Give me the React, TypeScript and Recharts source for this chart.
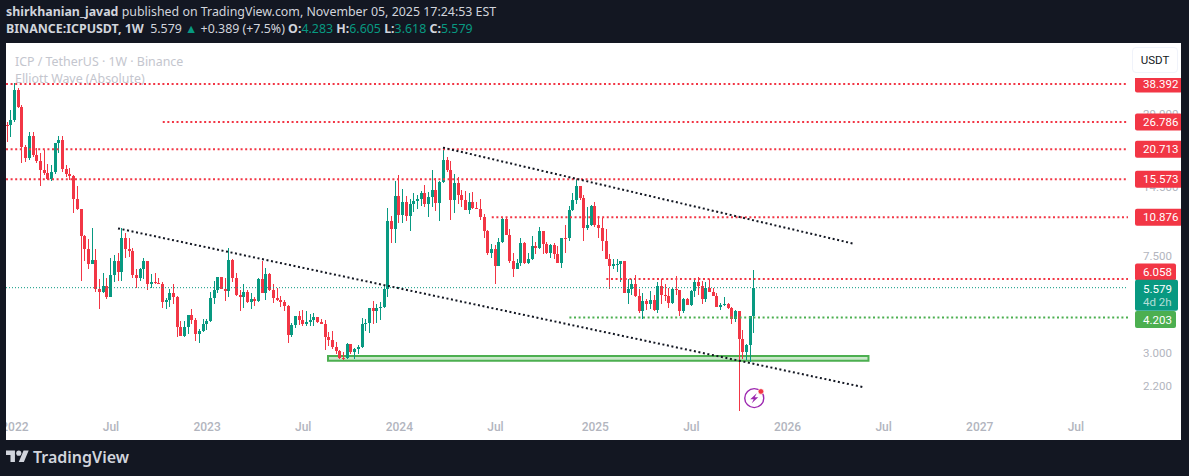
import { ComposedChart, Bar, XAxis, YAxis, ReferenceLine, ReferenceArea, ReferenceDot } from 'recharts';

const UP = '#089981';
const DOWN = '#f23645';
const GREEN = '#4caf50';
const FONT = 'Roboto, sans-serif';

// weekly candles, index 0 = last week of 2021, open of a week is the close before it
const FIRST_OPEN = 26.1;

const closes = [
  26.02, 27.28, 36.27, 30.87, 21.12, 19.02, 23.44, 19.57, 18.49, 16.97,
  16.49, 15.58, 16.65, 21.93, 22.57, 17.13, 16.34, 16.03, 12.88, 11.71,
  9.06, 8.08, 7.01, 7.28, 5.53, 5.38, 5.69, 5.13, 6.32, 7.15,
  6.5, 8.89, 8.08, 7.86, 6.32, 6.14, 6.63, 7.15, 5.75, 5.86,
  5.84, 5.75, 4.89, 4.98, 5.28, 5.13, 3.85, 3.54, 3.85, 4.32,
  4.12, 3.61, 3.71, 3.97, 4.08, 5.08, 5.48, 6.2, 5.53, 5.43,
  7.28, 6.14, 5.23, 5.13, 5.38, 4.89, 5.03, 4.94, 6.03, 5.33,
  6.38, 5.48, 5.08, 4.98, 4.89, 4.71, 3.57, 3.93, 4.28, 4.12,
  3.97, 4.04, 4.12, 4.24, 4.04, 3.97, 3.51, 3.41, 3.19, 3.05,
  2.88, 2.87, 3.28, 3.02, 3.13, 3.19, 3.97, 4.0, 4.62, 4.49,
  4.62, 4.66, 5.53, 10.45, 9.68, 13.26, 11.06, 12.52, 10.96, 12.29,
  12.64, 12.88, 13.64, 12.29, 13.13, 14.03, 12.4, 15.14, 18.66, 16.97,
  12.76, 15.0, 13.38, 12.76, 11.6, 12.52, 11.83, 11.71, 10.85, 9.5,
  7.78, 8.08, 6.82, 8.56, 10.65, 9.23, 7.21, 6.69, 7.08, 8.48,
  7.08, 7.35, 8.24, 8.16, 9.5, 8.4, 7.78, 8.32, 7.71, 7.08,
  8.97, 8.89, 11.6, 12.76, 14.58, 13.01, 9.78, 10.06, 12.05, 10.06,
  9.78, 8.64, 7.35, 6.82, 6.95, 6.98, 7.15, 5.33, 5.53, 5.8,
  5.18, 4.49, 4.94, 4.8, 4.98, 4.53, 5.69, 5.23, 5.18, 4.84,
  5.53, 5.48, 4.49, 5.03, 4.75, 5.43, 5.91, 5.69, 5.03, 5.58,
  5.38, 5.18, 4.66, 4.75, 4.8, 4.62, 4.16, 4.49, 3.44, 3.02,
  3.25, 4.28, 5.579,
];

const highs = [
  26.77, 30.0, 38.6, 36.96, 31.46, 21.52, 24.35, 24.35, 20.92, 19.95,
  20.52, 17.97, 17.8, 21.93, 23.44, 23.44, 17.8, 17.3, 16.18, 14.58,
  11.71, 9.15, 8.81, 9.78, 8.01, 6.08, 6.44, 6.14, 7.42, 7.57,
  7.78, 9.78, 9.32, 8.89, 8.16, 6.63, 6.75, 7.42, 7.21, 6.38,
  6.44, 6.14, 5.86, 5.08, 5.53, 5.75, 5.18, 4.08, 4.08, 4.32,
  4.57, 4.2, 3.78, 4.16, 4.16, 5.38, 5.97, 6.2, 6.2, 6.14,
  8.16, 7.35, 6.44, 5.48, 5.75, 5.48, 5.33, 5.13, 6.14, 7.15,
  6.75, 6.44, 5.8, 5.58, 5.18, 4.98, 4.75, 4.0, 4.28, 4.49,
  4.53, 4.49, 4.36, 4.4, 4.24, 4.16, 4.12, 3.68, 3.71, 3.35,
  3.1, 3.02, 3.31, 3.28, 3.16, 3.25, 4.2, 4.16, 4.62, 4.94,
  4.8, 4.89, 5.69, 11.83, 10.96, 15.29, 16.18, 14.17, 13.26, 12.88,
  13.64, 13.38, 13.9, 14.72, 13.77, 16.97, 15.73, 15.29, 21.12, 19.2,
  18.49, 16.34, 15.88, 14.03, 13.9, 13.64, 13.77, 12.52, 12.88, 11.17,
  9.59, 8.4, 8.32, 8.97, 10.75, 10.75, 9.68, 7.78, 7.35, 8.89,
  8.56, 7.78, 9.06, 8.56, 9.87, 9.5, 8.56, 8.4, 8.48, 8.24,
  8.97, 10.06, 12.05, 13.64, 15.58, 14.58, 13.38, 11.94, 12.17, 12.52,
  10.96, 10.75, 9.68, 7.71, 7.35, 7.35, 7.21, 7.21, 6.08, 6.08,
  6.32, 5.53, 5.28, 5.03, 5.43, 5.23, 5.91, 6.08, 5.8, 5.58,
  5.58, 6.26, 5.48, 5.08, 5.08, 5.48, 6.14, 6.2, 5.97, 5.86,
  6.08, 5.58, 5.33, 4.84, 5.13, 4.84, 4.66, 4.53, 4.49, 3.75,
  3.28, 4.28, 6.605,
];

const lows = [
  22.14, 23.22, 26.77, 30.58, 18.14, 18.31, 18.66, 19.2, 18.14, 14.58,
  16.18, 15.43, 15.29, 16.34, 19.95, 16.65, 15.88, 15.43, 11.28, 11.6,
  5.97, 7.21, 6.69, 7.01, 5.38, 4.57, 5.28, 5.03, 5.13, 5.86,
  5.97, 5.97, 7.42, 7.49, 6.14, 5.58, 5.97, 6.08, 5.48, 5.58,
  5.75, 5.75, 4.62, 4.57, 4.66, 4.8, 3.51, 3.54, 3.51, 3.61,
  3.97, 3.38, 3.31, 3.68, 3.75, 4.04, 4.8, 5.33, 5.53, 4.94,
  5.13, 5.86, 5.18, 4.49, 4.62, 4.84, 4.57, 4.71, 4.89, 5.28,
  4.98, 5.43, 4.84, 4.94, 4.66, 4.49, 3.31, 3.51, 3.82, 3.93,
  3.89, 3.89, 3.89, 3.89, 4.0, 3.97, 3.1, 3.22, 3.13, 2.99,
  2.85, 2.8, 2.85, 2.99, 2.85, 2.99, 3.16, 3.71, 3.64, 3.97,
  4.0, 4.12, 4.62, 5.13, 8.48, 8.48, 10.25, 10.25, 10.45, 9.5,
  11.38, 11.71, 12.05, 11.94, 10.85, 11.94, 11.49, 10.45, 15.0, 16.65,
  10.55, 11.28, 12.29, 11.94, 11.6, 11.17, 11.71, 11.71, 10.55, 8.97,
  7.57, 7.42, 5.75, 6.82, 8.48, 9.15, 7.08, 6.2, 6.69, 6.88,
  7.01, 6.95, 7.28, 7.71, 8.01, 7.64, 7.71, 7.42, 7.35, 7.08,
  6.75, 7.78, 8.64, 11.49, 12.29, 12.76, 8.72, 9.59, 9.96, 9.87,
  8.97, 7.93, 7.35, 5.53, 6.69, 6.5, 5.86, 5.28, 4.8, 5.23,
  5.13, 4.4, 4.16, 4.53, 4.57, 4.49, 4.4, 4.8, 4.94, 4.62,
  4.8, 5.23, 4.28, 4.4, 4.75, 4.71, 5.13, 5.23, 4.8, 4.89,
  5.38, 5.18, 4.66, 4.53, 4.71, 4.57, 3.97, 4.04, 1.74, 2.85,
  2.8, 2.77, 3.618,
];

const tickWeeks = [2, 28, 54, 80, 106, 132, 159, 185, 211, 237, 263, 289];
const tickNames = ['2022', 'Jul', '2023', 'Jul', '2024', 'Jul', '2025', 'Jul', '2026', 'Jul', '2027', 'Jul'];

const LEFT_WEEK = -0.4;
const RIGHT_WEEK = 303.1;
const LAST_PRICE = 5.579;

// price, week the line starts, label offset, tag colour
const redLevels = [38.392, 26.786, 20.713, 15.573, 10.876, 6.058];
const redStarts = [LEFT_WEEK, 42, LEFT_WEEK, LEFT_WEEK, 131, 162];
const greenLevel = 4.203;
const greenStart = 152;
const grayTicks = [29, 14.5, 7.5, 3, 2.2];

const lowerTrend = { w1: 29.9, p1: 9.78, w2: 231.4, p2: 2.176 };
const upperTrend = { w1: 117.8, p1: 21.02, w2: 229.2, p2: 8.44 };
const zone = { w1: 86.7, w2: 232.9, p1: 2.79, p2: 2.92 };

const candles = closes.map((close, i) => {
  const open = i === 0 ? FIRST_OPEN : closes[i - 1];
  return {
    week: i,
    open,
    close,
    wick: [lows[i], highs[i]],
    body: [Math.min(open, close), Math.max(open, close)],
  };
});

const colorOf = (c: any) => (c.close >= c.open ? UP : DOWN);

function Wick(props: any) {
  const { x, y, width, height, payload } = props;
  const left = Math.round(x + width / 2 - 0.5);
  return <rect x={left} y={y} width={1} height={Math.abs(height)} fill={colorOf(payload)} shapeRendering="crispEdges" />;
}

function Body(props: any) {
  const { x, y, width, height, payload } = props;
  const left = Math.round(x + width / 2 - 0.5) - 1;
  return <rect x={left} y={y} width={3} height={Math.max(Math.abs(height), 1)} fill={colorOf(payload)} shapeRendering="crispEdges" />;
}

function tagFor(value: number) {
  if (value === LAST_PRICE) return { fill: UP, w: 43, top: -8, h: 31, dy: 1 };
  if (value === 6.058) return { fill: DOWN, w: 41, top: -15.5, h: 17, dy: -7 };
  if (value === greenLevel) return { fill: GREEN, w: 41, top: -6.5, h: 17, dy: 2 };
  if (redLevels.includes(value)) return { fill: DOWN, w: 47, top: -8.5, h: 17, dy: 0 };
  return null;
}

function PriceTick(props: any) {
  const { x, y, payload } = props;
  const value = payload.value;
  const tag = tagFor(value);
  if (!tag) {
    return (
      <text x={x + 9} y={y} dy={4} fontSize={11.5} fontFamily={FONT} fill="#b2b5be">
        {value.toFixed(3)}
      </text>
    );
  }
  return (
    <g>
      <rect x={x + 1} y={y + tag.top} width={tag.w} height={tag.h} rx={2} fill={tag.fill} />
      <text x={x + 9} y={y + tag.dy} dy={4} fontSize={11.5} fontFamily={FONT} fill="#fff">
        {value.toFixed(3)}
      </text>
      {value === LAST_PRICE && (
        <text x={x + 9} y={y + 14.5} dy={4} fontSize={11.5} fontFamily={FONT} fill="#fff" fillOpacity={0.7}>
          4d 2h
        </text>
      )}
    </g>
  );
}

function BoltIcon(props: any) {
  const { cx, cy } = props;
  return (
    <g transform={`translate(${cx},${cy})`}>
      <circle r={9.5} fill="#fff" stroke="#9c27b0" strokeWidth={1.4} />
      <path d="M2.5 -5 L-4 1 L-0.5 1 L-2.5 5 L4 -1 L0.5 -1 Z" fill="#9c27b0" />
      <circle cx={6.7} cy={-6.7} r={2.8} fill={DOWN} stroke="#fff" strokeWidth={0.6} />
    </g>
  );
}

function TvLogo() {
  return (
    <svg width={23} height={18} viewBox="0 0 36 28" style={{ position: 'absolute', left: 6, top: 448 }}>
      <path d="M14 22H7V11H0V4h14v18zM28 22h-8l7.5-18h8L28 22z" fill="#d1d4dc" />
      <circle cx={20} cy={8} r={4} fill="#d1d4dc" />
    </svg>
  );
}

const line: any = { position: 'absolute', left: 6, whiteSpace: 'pre', fontFamily: '"Noto Sans", sans-serif', fontSize: 12.4, color: '#d1d4dc' };

export default function App() {
  const dots = '2 2.6';
  return (
    <div style={{ position: 'absolute', left: 0, top: 0, width: 1189, height: 476, background: '#131722', overflow: 'hidden' }}>
      <div style={{ ...line, top: 3 }}>
        <b>shirkhanian_javad</b> published on TradingView.com, November 05, 2025 17:24:53 EST
      </div>
      <div style={{ ...line, top: 20 }}>
        <b>BINANCE:ICPUSDT, 1W</b>  5.579 <span style={{ color: UP }}>▲</span> +0.389 (+7.5%) <b>O:</b>
        <span style={{ color: UP }}>4.283</span> <b>H:</b>
        <span style={{ color: UP }}>6.605</span> <b>L:</b>
        <span style={{ color: UP }}>3.618</span> <b>C:</b>
        <span style={{ color: UP }}>5.579</span>
      </div>

      <div style={{ position: 'absolute', left: 6, top: 43, width: 1175, height: 397, background: '#fff' }}>
        <ComposedChart
          width={1175}
          height={397}
          data={candles}
          margin={{ top: 0, right: 0, bottom: 0, left: 0 }}
          barGap={-3}
          barSize={3}
        >
          <XAxis
            dataKey="week"
            type="number"
            domain={[LEFT_WEEK, RIGHT_WEEK]}
            allowDataOverflow
            ticks={tickWeeks}
            interval={0}
            tickFormatter={(w: number) => tickNames[tickWeeks.indexOf(w)]}
            axisLine={false}
            tickLine={false}
            height={28}
            tickMargin={4}
            tick={{ fontSize: 12, fontFamily: FONT, fill: '#b2b5be', fontWeight: 500 }}
          />
          <YAxis
            orientation="right"
            type="number"
            scale="log"
            domain={[1.719, 56.6]}
            allowDataOverflow
            ticks={[...grayTicks, ...redLevels, LAST_PRICE, greenLevel]}
            interval={0}
            width={53}
            axisLine={false}
            tickLine={false}
            tickMargin={0}
            tick={<PriceTick />}
          />
          <Bar dataKey="wick" isAnimationActive={false} shape={<Wick />} />
          <Bar dataKey="body" isAnimationActive={false} shape={<Body />} />

          <ReferenceArea
            x1={zone.w1}
            x2={zone.w2}
            y1={zone.p1}
            y2={zone.p2}
            fill={GREEN}
            fillOpacity={0.3}
            stroke={GREEN}
            strokeWidth={2}
            ifOverflow="visible"
          />
          <ReferenceLine
            segment={[{ x: LEFT_WEEK, y: LAST_PRICE }, { x: RIGHT_WEEK, y: LAST_PRICE }]}
            stroke={UP}
            strokeWidth={1}
            strokeDasharray="1 2"
          />
          {redLevels.map((p, i) => (
            <ReferenceLine
              key={p}
              segment={[{ x: redStarts[i], y: p }, { x: RIGHT_WEEK, y: p }]}
              stroke={DOWN}
              strokeWidth={2}
              strokeDasharray={dots}
            />
          ))}
          <ReferenceLine
            segment={[{ x: greenStart, y: greenLevel }, { x: RIGHT_WEEK, y: greenLevel }]}
            stroke={GREEN}
            strokeWidth={2}
            strokeDasharray={dots}
          />
          {[lowerTrend, upperTrend].map((t) => (
            <ReferenceLine
              key={t.w1}
              segment={[{ x: t.w1, y: t.p1 }, { x: t.w2, y: t.p2 }]}
              stroke="#131722"
              strokeWidth={2}
              strokeDasharray={dots}
            />
          ))}
          <ReferenceDot x={202} y={1.96} r={10} shape={<BoltIcon />} ifOverflow="visible" />
        </ComposedChart>

        <div style={{ position: 'absolute', left: 9, top: 10, fontFamily: '"Noto Sans", sans-serif', fontSize: 12.4, color: '#c4c6ce', whiteSpace: 'pre' }}>
          ICP / TetherUS · 1W · Binance
        </div>
        <div style={{ position: 'absolute', left: 9, top: 27, fontFamily: '"Noto Sans", sans-serif', fontSize: 12.4, color: '#c4c6ce', whiteSpace: 'pre' }}>
          Elliott Wave (Absolute)
        </div>
        <div style={{ position: 'absolute', left: 1123, top: 0, width: 52, height: 35, background: '#fff' }} />
        <div
          style={{
            position: 'absolute',
            left: 1126,
            top: 4,
            width: 44,
            height: 24,
            border: '1px solid #f0f3fa',
            borderRadius: 4,
            background: '#fff',
            fontFamily: FONT,
            fontSize: 11.5,
            lineHeight: '24px',
            textAlign: 'center',
            color: '#131722',
          }}
        >
          USDT
        </div>
      </div>

      <TvLogo />
      <div style={{ position: 'absolute', left: 33, top: 446, fontFamily: '"Noto Sans", sans-serif', fontWeight: 600, fontSize: 16, color: '#d1d4dc' }}>
        TradingView
      </div>
    </div>
  );
}
